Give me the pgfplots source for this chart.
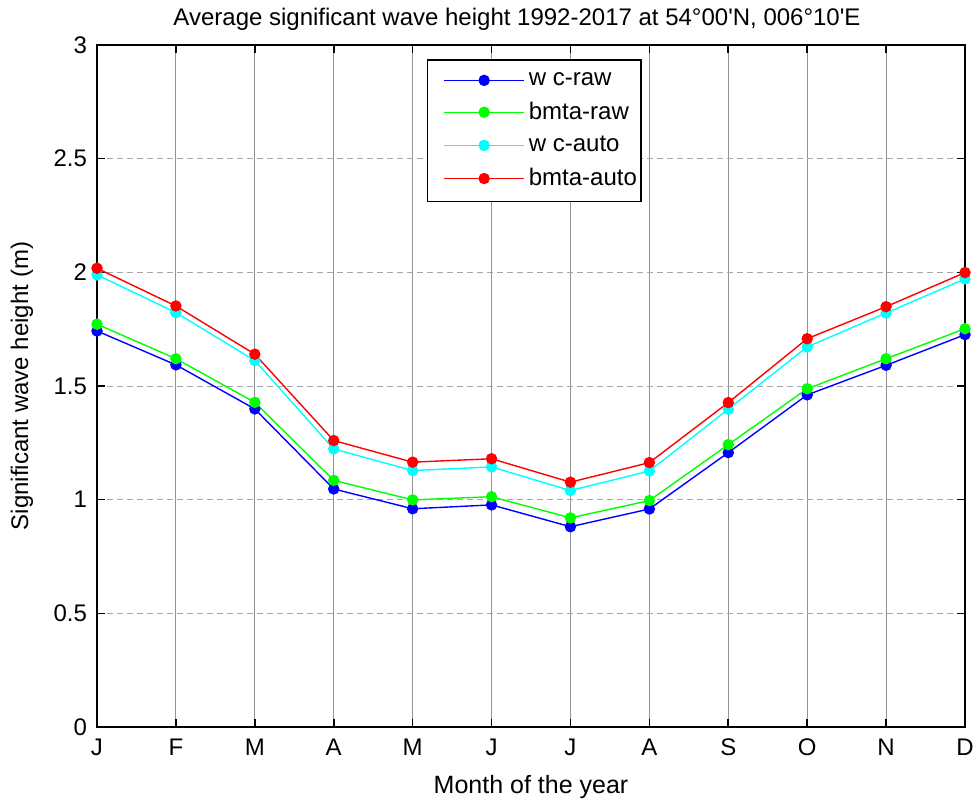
\documentclass[border=0pt]{standalone}
\usepackage{fontspec}
\setmainfont{Liberation Sans}[Ligatures=TeXOff]
\usepackage{pgfplots}
\pgfplotsset{compat=1.18}
\begin{document}
\begin{tikzpicture}
\begin{axis}[
  scale only axis, width=434pt, height=341pt,
  xmin=0, xmax=11, ymin=0, ymax=3,
  xtick={0,...,11}, xticklabels={J,F,M,A,M,J,J,A,S,O,N,D},
  ytick={0,0.5,1,1.5,2,2.5,3},
  tick align=inside,
  font=\fontsize{12}{14}\selectfont,
  /pgf/number format/assume math mode=true,
  grid=major,
  x grid style={gray!85, line width=0.45pt},
  y grid style={gray!70, densely dashed, line width=0.45pt},
  axis line style={line width=0.8pt},
  major tick style={black, line width=0.8pt},
  major tick length=4pt,
  xticklabel style={anchor=base, yshift=-14pt},
  yticklabel style={xshift=-1.5pt},
  title={Average significant wave height 1992-2017 at 54°00'N, 006°10'E},
  title style={at={(axis description cs:0.4839,1.0293)}, anchor=base, yshift=-6pt, font=\fontsize{12}{14}\selectfont},
  xlabel={Month of the year},
  xlabel style={at={(axis description cs:0.5,-0.0982)}, anchor=base, font=\fontsize{12.5}{14}\selectfont},
  ylabel={Significant wave height (m)},
  ylabel style={at={(axis description cs:-0.0865,0.5)}, anchor=center, font=\fontsize{12}{14}\selectfont},
  legend style={at={(axis description cs:0.380,0.979)}, anchor=north west,
    draw=black, line width=0.6pt, fill=white,
    font=\fontsize{12}{14}\selectfont,
    inner xsep=0pt, inner ysep=4.25pt, row sep=2.85pt},
  legend cell align=left,
  legend image code/.code={\path (0pt,0pt); \draw[mark repeat=2, mark phase=2, #1] plot coordinates {(8pt,0pt) (28pt,0pt) (48pt,0pt)};},
  every axis plot/.append style={line width=0.7pt, mark=*, mark size=2.5pt},
]
\addplot[color={rgb,1:red,0;green,0;blue,1}, mark options={fill={rgb,1:red,0;green,0;blue,1}}] coordinates {
(0,1.742) (1,1.593) (2,1.399) (3,1.047) (4,0.960) (5,0.977) (6,0.881) (7,0.959) (8,1.207) (9,1.461) (10,1.591) (11,1.726)};
\addlegendentry{w c-raw}
\addplot[color={rgb,1:red,0;green,1;blue,0}, mark options={fill={rgb,1:red,0;green,1;blue,0}}] coordinates {
(0,1.772) (1,1.620) (2,1.428) (3,1.085) (4,0.999) (5,1.013) (6,0.920) (7,0.996) (8,1.242) (9,1.488) (10,1.620) (11,1.752)};
\addlegendentry{bmta-raw}
\addplot[color={rgb,1:red,0;green,1;blue,1}, mark options={fill={rgb,1:red,0;green,1;blue,1}}] coordinates {
(0,1.989) (1,1.823) (2,1.612) (3,1.223) (4,1.128) (5,1.144) (6,1.040) (7,1.126) (8,1.398) (9,1.672) (10,1.821) (11,1.971)};
\addlegendentry{w c-auto}
\addplot[color={rgb,1:red,1;green,0;blue,0}, mark options={fill={rgb,1:red,1;green,0;blue,0}}] coordinates {
(0,2.018) (1,1.852) (2,1.640) (3,1.260) (4,1.165) (5,1.180) (6,1.077) (7,1.163) (8,1.427) (9,1.708) (10,1.849) (11,1.999)};
\addlegendentry{bmta-auto}
\end{axis}
\pgfresetboundingbox
\path[use as bounding box] ([shift={(-48.5pt,-38pt)}]current axis.south west) rectangle ([shift={(7pt,22.5pt)}]current axis.north east);
\end{tikzpicture}
\end{document}
